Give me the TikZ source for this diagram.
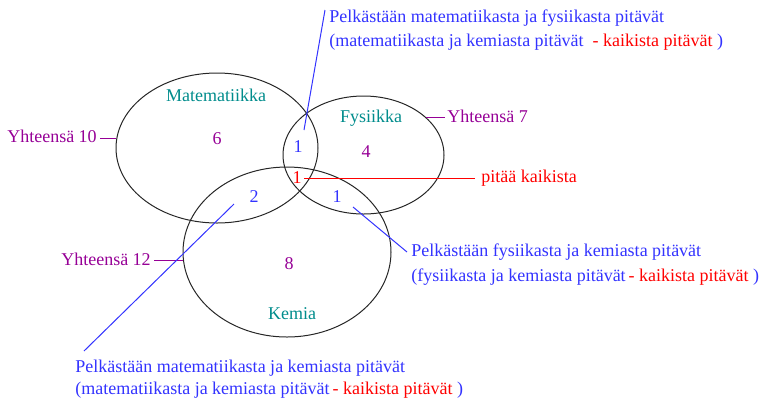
\documentclass[tikz,border=0pt]{standalone}
\usepackage{fontspec}
\setmainfont{Liberation Serif}
\usetikzlibrary{shapes.geometric}
\definecolor{lblue}{RGB}{51,51,255}
\definecolor{lred}{RGB}{255,0,0}
\definecolor{lteal}{RGB}{0,140,140}
\definecolor{lpurple}{RGB}{150,0,150}
\tikzset{
  venn/.style={draw=black!85,line width=0.75pt,ellipse,inner sep=0pt},
  txt/.style={inner sep=0pt,anchor=base west,font=\fontsize{13.5}{16}\selectfont},
  ctxt/.style={inner sep=0pt,anchor=base,font=\fontsize{13.5}{16}\selectfont},
  bluelink/.style={draw=lblue,line width=0.75pt},
  redlink/.style={draw=lred,line width=0.75pt},
  purplelink/.style={draw=lpurple,line width=0.75pt},
}
\begin{document}
\begin{tikzpicture}[x=0.75pt,y=-0.75pt]
\useasboundingbox (0,0) rectangle (766,401);
% ellipses
\node[venn,minimum width=151.5pt,minimum height=112.5pt] (emat) at (217,148) {};
\node[venn,minimum width=120.75pt,minimum height=88.5pt] (efys) at (363.5,155) {};
\node[venn,minimum width=156pt,minimum height=127.5pt] (ekem) at (287,252) {};
% set names
\node[ctxt,text=lteal] (nmat) at (216,101) {Matematiikka};
\node[ctxt,text=lteal] (nfys) at (371,122) {Fysiikka};
\node[ctxt,text=lteal] (nkem) at (292,319) {Kemia};
% counts
\node[ctxt,text=lpurple] (c6) at (217,144) {6};
\node[ctxt,text=lpurple] (c4) at (366,157) {4};
\node[ctxt,text=lpurple] (c8) at (289,269) {8};
\node[ctxt,text=lblue] (cmf) at (298,152) {1};
\node[ctxt,text=lred] (call) at (297,183) {1};
\node[ctxt,text=lblue] (cmk) at (254,202) {2};
\node[ctxt,text=lblue] (cfk) at (337,202) {1};
% totals
\node[txt,text=lpurple] (t10) at (7,142) {Yhteensä 10};
\node[txt,text=lpurple] (t7) at (447,122) {Yhteensä 7};
\node[txt,text=lpurple] (t12) at (61,265) {Yhteensä 12};
\coordinate (t10a) at (100,138); \coordinate (t10b) at (116,138);
\coordinate (t7a) at (426,117); \coordinate (t7b) at (445,117);
\coordinate (t12a) at (154,260); \coordinate (t12b) at (183,260);
\draw[purplelink] (t10a) -- (t10b);
\draw[purplelink] (t7a) -- (t7b);
\draw[purplelink] (t12a) -- (t12b);
% all
\node[txt,text=lred] (lall) at (481,182) {pitää kaikista};
\coordinate (ra) at (304,178); \coordinate (rb) at (475,178);
\draw[redlink] (ra) -- (rb);
% labels
\node[txt,text=lblue] (lmf1) at (329,22) {Pelkästään matematiikasta ja fysiikasta pitävät};
\node[txt,text=lblue] (lmf2) at (329,46) {(matematiikasta ja kemiasta pitävät\ \ \textcolor{lred}{- kaikista pitävät} )};
\node[txt,text=lblue] (lfk1) at (411,256) {Pelkästään fysiikasta ja kemiasta pitävät};
\node[txt,text=lblue] (lfk2) at (411,281) {(fysiikasta ja kemiasta pitävät\,\textcolor{lred}{- kaikista pitävät} )};
\node[txt,text=lblue] (lmk1) at (75,372) {Pelkästään matematiikasta ja kemiasta pitävät};
\node[txt,text=lblue] (lmk2) at (75,394) {(matematiikasta ja kemiasta pitävät\,\textcolor{lred}{- kaikista pitävät} )};
\coordinate (ma) at (304,130); \coordinate (mb) at (325,10);
\coordinate (fa) at (353,207); \coordinate (fb) at (407,252);
\coordinate (ka) at (234,204); \coordinate (kb) at (84,351);
\draw[bluelink] (ma) -- (mb);
\draw[bluelink] (fa) -- (fb);
\draw[bluelink] (ka) -- (kb);
\end{tikzpicture}
\end{document}
